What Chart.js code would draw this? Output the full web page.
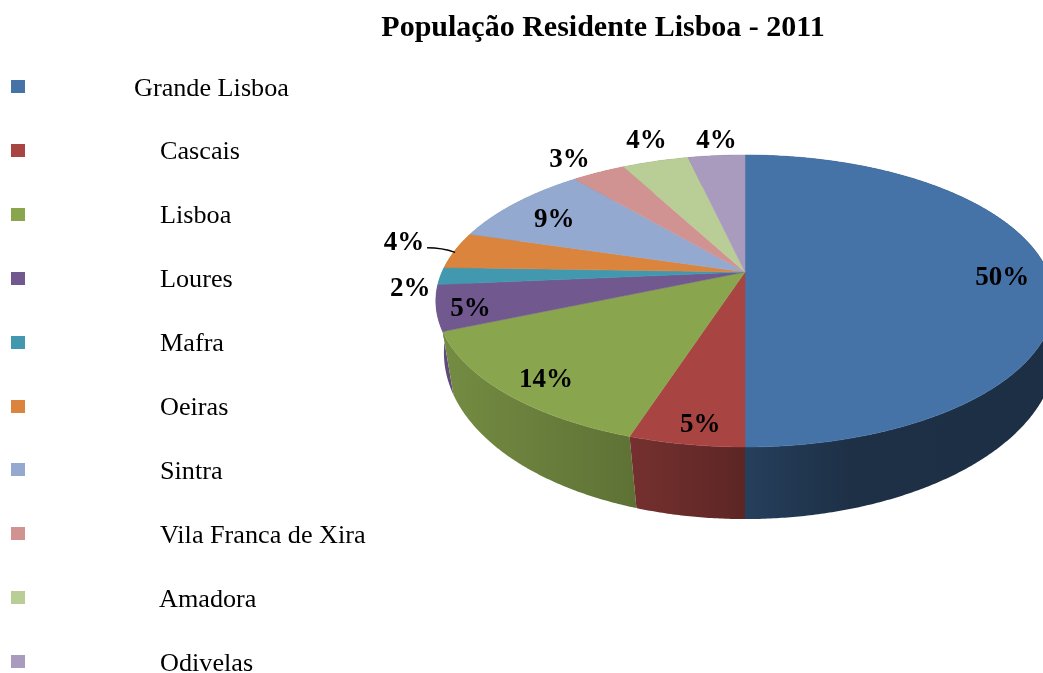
<!DOCTYPE html>
<html>
<head>
<meta charset="utf-8">
<style>html,body{margin:0;padding:0;background:#fff;overflow:hidden}canvas{display:block}</style>
<script src="https://cdn.jsdelivr.net/npm/chart.js@4/dist/chart.umd.min.js"></script>
</head>
<body>
<canvas id="c" width="1043" height="673"></canvas>
<script>
const chartTitle = 'População Residente Lisboa - 2011';
const categories = ['Grande Lisboa','Cascais','Lisboa','Loures','Mafra','Oeiras','Sintra','Vila Franca de Xira','Amadora','Odivelas'];
const shares = [50, 5, 13.6, 5, 1.9, 4.1, 9.2, 3.4, 4.2, 3.6];
const colors = ['#4572A7','#A84543','#89A54E','#71588F','#4198AF','#DB843D','#93A9CF','#D19392','#B9CD96','#A99BBD'];
const labelRadius = [0.845, 0.895, 0.869, 0.895, 1.087, 1.2, 0.8, 1.19, 1.237, 1.175];
const labelTurnDeg = [1.9, -1.2, -1.4, -1.4, -4, 2, -1.6, -1.3, 1.6, 0.8];
const leaderSlices = [5];

const serif = '"Liberation Serif","Times New Roman",serif';

// Perspective projection of the pie disc on the page (top and bottom faces)
function topFace(u, v) {
  const w = 1 - 0.1986 * v;
  return [745 + 303 * u / w, 301 + (146 * v - 29) / w];
}
function bottomFace(u, v) {
  const w = 1 - 0.15 * v;
  return [745 + 5 * (1 - v * v) + 302.5 * u / w, 352 + (167 * v - 25) / w];
}
function arcPoints(face, a0, a1) {
  const n = Math.max(2, Math.ceil(Math.abs(a1 - a0) / 0.008));
  const pts = [];
  for (let i = 0; i <= n; i++) {
    const a = a0 + (a1 - a0) * i / n;
    pts.push(face(Math.cos(a), Math.sin(a)));
  }
  return pts;
}
function shade(hex, f) {
  const n = parseInt(hex.slice(1), 16);
  return 'rgb(' + Math.round((n >> 16) * f) + ',' + Math.round(((n >> 8) & 255) * f) + ',' + Math.round((n & 255) * f) + ')';
}
const sideShade = [[440, .85], [633, .69], [745, .55], [850, .42], [1043, .41]];

const pie3d = {
  id: 'pie3d',
  beforeDatasetsDraw(chart) {
    const ctx = chart.ctx;
    const arcs = chart.getDatasetMeta(0).data;
    const total = shares.reduce((a, b) => a + b, 0);
    ctx.save();
    // side walls, back slices first
    arcs.slice().reverse().forEach((el) => {
      const top = arcPoints(topFace, el.startAngle, el.endAngle);
      const bot = arcPoints(bottomFace, el.endAngle, el.startAngle);
      const g = ctx.createLinearGradient(440, 0, 1043, 0);
      sideShade.forEach(s => g.addColorStop((s[0] - 440) / 603, shade(el.options.backgroundColor, s[1])));
      ctx.beginPath();
      top.concat(bot).forEach((p, k) => k ? ctx.lineTo(p[0], p[1]) : ctx.moveTo(p[0], p[1]));
      ctx.closePath();
      ctx.fillStyle = g;
      ctx.fill();
    });
    // top faces
    arcs.forEach((el) => {
      const apex = topFace(0, 0);
      ctx.beginPath();
      ctx.moveTo(apex[0], apex[1]);
      arcPoints(topFace, el.startAngle, el.endAngle).forEach(p => ctx.lineTo(p[0], p[1]));
      ctx.closePath();
      ctx.fillStyle = el.options.backgroundColor;
      ctx.strokeStyle = el.options.backgroundColor;
      ctx.lineWidth = 0.5;
      ctx.fill();
      ctx.stroke();
    });
    // percentage labels
    ctx.font = 'bold 27px ' + serif;
    ctx.textAlign = 'center';
    ctx.textBaseline = 'middle';
    ctx.fillStyle = '#000';
    arcs.forEach((el, i) => {
      const mid = (el.startAngle + el.endAngle) / 2;
      const a = mid + labelTurnDeg[i] * Math.PI / 180;
      const r = labelRadius[i];
      const p = topFace(r * Math.cos(a), r * Math.sin(a));
      ctx.fillText(Math.round(shares[i] / total * 100) + '%', p[0], p[1] + 2);
      if (leaderSlices.includes(i)) {
        const q = topFace(Math.cos(mid), Math.sin(mid));
        ctx.save();
        ctx.beginPath();
        ctx.moveTo(p[0] + 23, p[1] + 7);
        ctx.quadraticCurveTo(p[0] + 38, p[1] + 7, q[0], q[1] + 2);
        ctx.strokeStyle = '#000';
        ctx.lineWidth = 1.4;
        ctx.stroke();
        ctx.restore();
      }
    });
    // legend
    ctx.textAlign = 'left';
    ctx.textBaseline = 'alphabetic';
    ctx.font = '26.2px ' + serif;
    categories.forEach((name, i) => {
      const y = 86.5 + 63.9 * i;
      ctx.fillStyle = colors[i];
      ctx.fillRect(11, Math.round(y - 6.5), 14, 13);
      ctx.fillStyle = '#000';
      ctx.fillText(name, i === 0 ? 134 : (i === 8 ? 159 : 160), y + 9);
    });
    ctx.restore();
    return false;
  }
};

new Chart(document.getElementById('c'), {
  type: 'pie',
  data: {
    labels: categories,
    datasets: [{ data: shares, backgroundColor: colors, borderWidth: 0 }]
  },
  options: {
    responsive: false,
    animation: false,
    layout: { padding: { left: 163, right: 0, top: 0, bottom: 0 } },
    plugins: {
      legend: { display: false },
      tooltip: { enabled: false },
      title: {
        display: true,
        text: chartTitle,
        color: '#000',
        font: { family: serif, size: 30, weight: 'bold' },
        padding: { top: 10, bottom: 10 }
      }
    }
  },
  plugins: [pie3d]
});
</script>
</body>
</html>
